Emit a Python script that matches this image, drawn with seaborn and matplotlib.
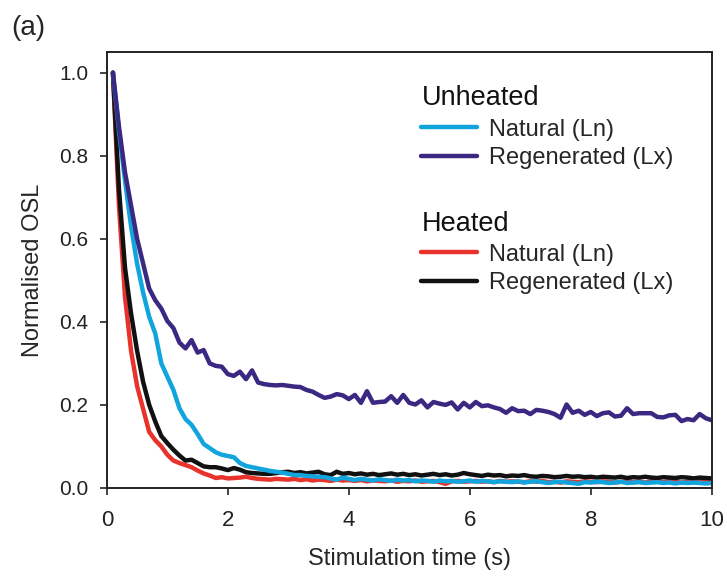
import matplotlib
matplotlib.use("Agg")
import matplotlib.pyplot as plt
import seaborn as sns
import pandas as pd
import numpy as np

time_s = [0.1, 0.2, 0.3, 0.4, 0.5, 0.6, 0.7, 0.8, 0.9, 1.0,
          1.1, 1.2, 1.3, 1.4, 1.5, 1.6, 1.7, 1.8, 1.9, 2.0,
          2.1, 2.2, 2.3, 2.4, 2.5, 2.6, 2.7, 2.8, 2.9, 3.0,
          3.1, 3.2, 3.3, 3.4, 3.5, 3.6, 3.7, 3.8, 3.9, 4.0,
          4.1, 4.2, 4.3, 4.4, 4.5, 4.6, 4.7, 4.8, 4.9, 5.0,
          5.1, 5.2, 5.3, 5.4, 5.5, 5.6, 5.7, 5.8, 5.9, 6.0,
          6.1, 6.2, 6.3, 6.4, 6.5, 6.6, 6.7, 6.8, 6.9, 7.0,
          7.1, 7.2, 7.3, 7.4, 7.5, 7.6, 7.7, 7.8, 7.9, 8.0,
          8.1, 8.2, 8.3, 8.4, 8.5, 8.6, 8.7, 8.8, 8.9, 9.0,
          9.1, 9.2, 9.3, 9.4, 9.5, 9.6, 9.7, 9.8, 9.9, 10.0]

unheated_ln = [1.000, 0.860, 0.740, 0.630, 0.540, 0.470, 0.412, 0.372, 0.300, 0.268,
               0.236, 0.192, 0.166, 0.152, 0.130, 0.106, 0.096, 0.086, 0.080, 0.077,
               0.074, 0.060, 0.053, 0.050, 0.047, 0.044, 0.041, 0.039, 0.037, 0.034,
               0.031, 0.031, 0.029, 0.028, 0.027, 0.026, 0.023, 0.020, 0.025, 0.022,
               0.019, 0.022, 0.020, 0.018, 0.021, 0.019, 0.017, 0.020, 0.018, 0.019,
               0.016, 0.018, 0.017, 0.015, 0.018, 0.016, 0.017, 0.015, 0.016, 0.018,
               0.015, 0.017, 0.016, 0.014, 0.016, 0.015, 0.014, 0.016, 0.013, 0.015,
               0.016, 0.014, 0.012, 0.014, 0.015, 0.013, 0.012, 0.010, 0.014, 0.013,
               0.015, 0.014, 0.012, 0.013, 0.015, 0.012, 0.013, 0.014, 0.012, 0.013,
               0.014, 0.012, 0.013, 0.011, 0.013, 0.012, 0.013, 0.012, 0.011, 0.012]

unheated_lx = [1.000, 0.870, 0.760, 0.680, 0.600, 0.540, 0.480, 0.452, 0.432, 0.402,
               0.385, 0.350, 0.336, 0.356, 0.326, 0.332, 0.300, 0.294, 0.292, 0.274,
               0.270, 0.280, 0.262, 0.283, 0.254, 0.250, 0.248, 0.247, 0.248, 0.246,
               0.244, 0.243, 0.236, 0.232, 0.224, 0.217, 0.220, 0.226, 0.223, 0.214,
               0.224, 0.205, 0.233, 0.205, 0.207, 0.208, 0.221, 0.205, 0.224, 0.205,
               0.201, 0.211, 0.194, 0.207, 0.203, 0.200, 0.206, 0.189, 0.205, 0.194,
               0.207, 0.197, 0.199, 0.194, 0.190, 0.181, 0.192, 0.185, 0.186, 0.178,
               0.188, 0.186, 0.183, 0.178, 0.169, 0.201, 0.181, 0.186, 0.176, 0.183,
               0.173, 0.180, 0.182, 0.172, 0.174, 0.192, 0.178, 0.180, 0.180, 0.180,
               0.171, 0.170, 0.175, 0.176, 0.161, 0.166, 0.163, 0.178, 0.168, 0.163]

heated_ln = [1.000, 0.680, 0.460, 0.330, 0.245, 0.190, 0.135, 0.115, 0.100, 0.080,
             0.066, 0.060, 0.055, 0.050, 0.042, 0.035, 0.030, 0.024, 0.026, 0.023,
             0.024, 0.025, 0.027, 0.024, 0.022, 0.021, 0.020, 0.022, 0.021, 0.020,
             0.022, 0.019, 0.021, 0.018, 0.020, 0.019, 0.017, 0.020, 0.018, 0.019,
             0.017, 0.019, 0.016, 0.018, 0.017, 0.016, 0.018, 0.015, 0.017, 0.016,
             0.018, 0.015, 0.016, 0.017, 0.014, 0.010, 0.016, 0.017, 0.015, 0.016,
             0.017, 0.015, 0.016, 0.014, 0.017, 0.015, 0.016, 0.015, 0.014, 0.016,
             0.015, 0.017, 0.014, 0.015, 0.013, 0.016, 0.015, 0.014, 0.016, 0.015,
             0.014, 0.016, 0.015, 0.013, 0.015, 0.016, 0.014, 0.015, 0.013, 0.016,
             0.015, 0.014, 0.016, 0.015, 0.013, 0.015, 0.014, 0.016, 0.015, 0.016]

heated_lx = [1.000, 0.720, 0.530, 0.420, 0.330, 0.255, 0.200, 0.160, 0.125, 0.108,
             0.092, 0.078, 0.066, 0.068, 0.060, 0.052, 0.050, 0.050, 0.047, 0.043,
             0.048, 0.044, 0.038, 0.036, 0.035, 0.034, 0.034, 0.036, 0.038, 0.039,
             0.036, 0.038, 0.035, 0.037, 0.039, 0.033, 0.031, 0.039, 0.034, 0.036,
             0.033, 0.035, 0.032, 0.034, 0.031, 0.033, 0.035, 0.032, 0.034, 0.031,
             0.033, 0.030, 0.032, 0.034, 0.031, 0.033, 0.030, 0.032, 0.036, 0.033,
             0.031, 0.029, 0.032, 0.030, 0.031, 0.028, 0.030, 0.029, 0.031, 0.028,
             0.027, 0.029, 0.028, 0.026, 0.027, 0.029, 0.027, 0.028, 0.026, 0.027,
             0.025, 0.027, 0.026, 0.025, 0.027, 0.024, 0.026, 0.025, 0.027, 0.025,
             0.024, 0.026, 0.025, 0.024, 0.026, 0.025, 0.023, 0.025, 0.024, 0.023]

series_names = ["Heated Ln", "Heated Lx", "Unheated Ln", "Unheated Lx"]
series_values = [heated_ln, heated_lx, unheated_ln, unheated_lx]
series_colors = ["#E8332D", "#111111", "#12A5DD", "#3A2882"]
x_ticks = [0, 2, 4, 6, 8, 10]
y_ticks = [0.0, 0.2, 0.4, 0.6, 0.8, 1.0]
group_titles = ["Unheated", "Heated"]
entry_labels = ["Natural (Ln)", "Regenerated (Lx)"]

frames = []
for name, vals in zip(series_names, series_values):
    frames.append(pd.DataFrame({"time": time_s, "osl": vals, "series": name}))
df = pd.concat(frames, ignore_index=True)

sns.set_style("ticks")
plt.rcParams["font.family"] = ["Liberation Sans", "DejaVu Sans"]

fig = plt.figure(figsize=(7.27, 5.83), dpi=100)
ax = fig.add_axes([0.147, 0.163, 0.832, 0.748])

sns.lineplot(data=df, x="time", y="osl", hue="series", hue_order=series_names,
             palette=dict(zip(series_names, series_colors)), linewidth=3.2,
             legend=False, ax=ax, estimator=None, sort=False)

lines = {name: ln for name, ln in zip(series_names, ax.get_lines())}

ax.set_xlim(0, 10)
ax.set_ylim(0, 1.05)
ax.set_xticks(x_ticks)
ax.set_yticks(y_ticks)
ax.set_xticklabels([str(t) for t in x_ticks])
ax.set_yticklabels([f"{t:.1f}" for t in y_ticks])
ax.tick_params(axis="both", direction="out", length=5, width=1.2,
               colors="#222222")
ax.tick_params(axis="x", labelsize=16, pad=11)
ax.tick_params(axis="y", labelsize=15, pad=8.5)
for sp in ax.spines.values():
    sp.set_visible(True)
    sp.set_linewidth(1.4)
    sp.set_color("#222222")

ax.set_xlabel("Stimulation time (s)", fontsize=17, labelpad=12)
ax.set_ylabel("Normalised OSL", fontsize=17, labelpad=11)

leg_kw = dict(frameon=False, fontsize=17, handlelength=2.4, handletextpad=0.5,
              labelspacing=0.28, borderpad=0, borderaxespad=0, loc="center left")
leg1 = ax.legend([lines["Unheated Ln"], lines["Unheated Lx"]], entry_labels,
                 bbox_to_anchor=(0.519, 0.789), **leg_kw)
ax.add_artist(leg1)
leg2 = ax.legend([lines["Heated Ln"], lines["Heated Lx"]], entry_labels,
                 bbox_to_anchor=(0.519, 0.502), **leg_kw)

ax.text(0.520, 0.894, group_titles[0], transform=ax.transAxes, fontsize=19.5,
        ha="left", va="center", color="#111111")
ax.text(0.520, 0.606, group_titles[1], transform=ax.transAxes, fontsize=19.5,
        ha="left", va="center", color="#111111")

fig.text(0.016, 0.975, "(a)", fontsize=20, ha="left", va="top")

fig.savefig("out.png", dpi=100, facecolor="white")
